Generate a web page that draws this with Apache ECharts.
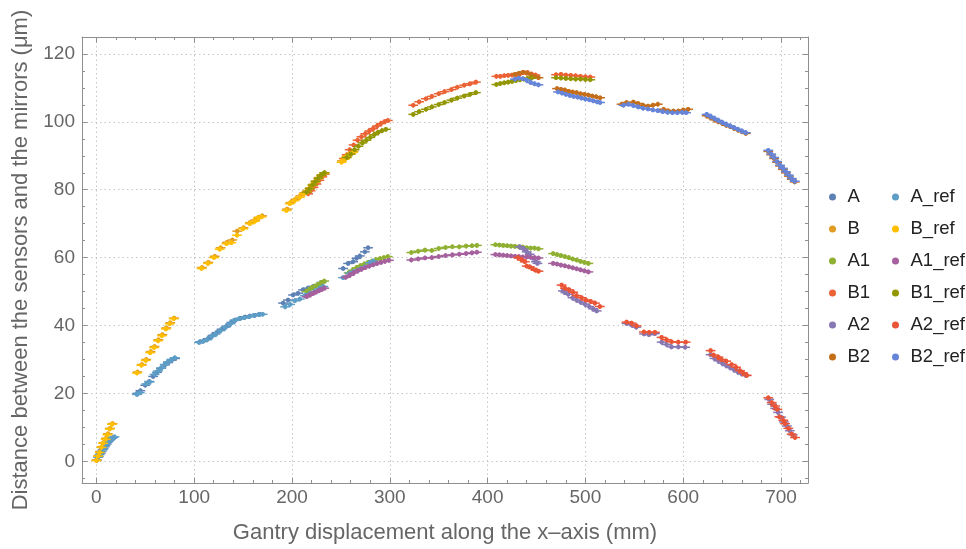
<!DOCTYPE html>
<html>
<head>
<meta charset="utf-8">
<script src="https://cdn.jsdelivr.net/npm/echarts@6/dist/echarts.min.js"></script>
<style>html,body{margin:0;padding:0;background:#fff}#c{width:966px;height:549px}</style>
</head>
<body>
<div id="c"></div>
<script>
// ---------------- data ----------------
const seriesNames = ['A','B','A1','B1','A2','B2','A_ref','B_ref','A1_ref','B1_ref','A2_ref','B2_ref'];
const seriesColors = ['#5E81B5','#E19C24','#8FB032','#EB6235','#8778B3','#C56E1A','#5D9EC7','#FFBF00','#A5609D','#929600','#E95536','#6685D9'];
const xTickValues = [0,100,200,300,400,500,600,700];
const yTickValues = [0,20,40,60,80,100,120];
const X_ERR = 5;     // mm
const Y_ERR = 0.7;   // µm

const A = [
 [0.5,0.3],[2.5,1.4],[4.5,2.4],[6.5,3.4],[8.5,4.3],[10.5,5.1],[12.5,5.9],[14.7,6.5],[17,7.0],
 [42,20.0],[45,20.8],[50,22.4],[54,23.5],[58,25.0],[62,26.2],[66,27.4],[70,28.4],[73.5,29.1],[77,29.8],[80.5,30.3],
 [106,35.2],[110,35.6],[114,36.1],[119,37.1],[123,37.9],[128,38.9],[133,39.8],[138,40.9],[142,41.6],[147,42.1],[152,42.5],[157,42.8],[162,43.0],[167,43.3],
 [190.9,46.6],[196,47.5],[201.1,49.0],[206.2,49.5],[211.3,50.5],[216.4,51.0],[221.6,51.5],[226.7,51.9],[230.2,52.7],
 [252.3,56.8],[257.4,58.3],[262.5,58.8],[266,59.8],[269.3,60.5],[274.5,61.7],[277.8,62.9]
];
const B = [
 [0.3,0.4],[2,1.7],[3.8,2.9],[5.5,4.3],[7.3,5.5],[9.8,6.8],[11.8,8.1],[14,9.7],[16.5,11.1],
 [42,26.3],[46.5,28.5],[51,30],[55.5,32.3],[59.5,33.8],[63.5,35.8],[67.5,37.3],[71.5,39.3],[75.5,40.8],[79.5,42.2],
 [108,57.1],[114.5,58.6],[121,60.4],[127,62.9],[133.5,64.5],[139,65.2],[144,67.8],[150.5,68.8],[157,70.3],[162.5,71.1],[166,71.9],[169.5,72.3],
 [195,74.3],[198.5,76.2],[203.5,77.2],[208.5,78.2],[212.5,79.1],[215.5,79.7],[218.5,80.6],[221.5,81.6],[224.5,82.6],[227.5,83.6],[230.5,84.4],[233.5,85],
 [251,88.5],[254.5,89.3],[257,90],[260,90.7],[263,91.3]
];
const A1 = [
 [215,50],[218,50.6],[221,51.2],[224,51.6],[227,52.1],[230,52.6],[233,53.1],
 [258,55.5],[262,56.3],[266,57.0],[270,57.6],[274,58.1],[278,58.6],[282,59.0],[286,59.4],[290,59.7],[294,60.0],[298,60.3],
 [322,61.5],[329,61.9],[336,62.2],[343,62.1],[350,62.7],[357,63.0],[364,63.2],[371,63.2],[378,63.4],[384,63.5],[389,63.6],
 [408,63.8],[412,63.7],[416,63.6],[420,63.5],[424,63.4],[428,63.3],[432,63.2],[436,63.1],[440,62.9],[444,62.8],[448,62.8],[452,62.6],
 [467,61.2],[471,60.9],[475,60.6],[479,60.3],[483,60.0],[487,59.6],[491,59.3],[495,58.9],[499,58.6],[503,58.3]
];
const B1 = [
 [216.5,78.8],[219,79.7],[222,80.7],[225,81.7],[228,82.8],[231,83.8],[233.5,84.6],
 [253,89.2],[256,90.3],[259,91.8],[263,93.2],[267,94.6],[271,95.6],[275,96.5],[279,97.3],[283,98.0],[287,98.8],[291,99.5],[295,100.1],[298,100.4],
 [324,104.9],[330,105.9],[337,106.8],[343,107.5],[350,108.3],[356,108.9],[363,109.5],[369,110.2],[376,110.8],[382,111.2],[388,111.7],
 [409,113.4],[413,113.4],[417,113.6],[421,113.7],[425,113.8],[429,113.9],[433,114.1],[437,114.6],[441,114.5],[445,114.1],[449,113.8],
 [470,113.9],[475,114.0],[480,113.8],[485,113.7],[490,113.6],[495,113.4],[500,113.3],[505,113.2]
];
const A2 = [
 [433,63.2],[437,62.5],[440,61.7],[443,61.0],[446.6,59.8],[449.4,58.8],[451,58.3],
 [477,50.2],[479.5,49.7],[482.4,49.2],[486.9,48.2],[491,47.5],[495.1,46.9],[499.5,46.3],[503.9,45.6],[508,44.9],[511.5,44.3],
 [542,40.6],[547,40.2],[552,39.5],[560,37.5],[565,37.3],[571,37.6],[578,35.1],[583,34.4],[588,33.7],[595,33.7],[602,33.6],
 [628,31.4],[632,30.3],[636,29.6],[640,28.9],[644,28.2],[648,27.6],[652,27.0],[656,26.3],[660,25.7],[664,25.3],
 [688,18.2],[691,16.8],[694,15.6],[697,14.4],[700,13.0],[703,11.6],[706,10.4],[709,9.0],[712,7.8]
];
const B2 = [
 [428,114.0],[432,114.3],[436,114.6],[440,114.4],[444,113.9],[448,113.4],[452,113.0],
 [471,109.8],[475,109.6],[479,109.4],[483,109.0],[487,108.8],[491,108.6],[495,108.3],[499,108.1],[503,107.9],[507,107.6],[511,107.4],[515,107.1],
 [537,105.2],[542,105.7],[549,105.8],[554,105.4],[559,104.9],[564,104.6],[569,104.9],[574,105.2],[580,103.7],[585,103.2],[590,103.2],[595,103.2],[600,103.5],[605,103.7],
 [624,101.8],[628,101.2],[632,100.6],[636,100.0],[640,99.6],[644,99.0],[648,98.6],[652,98.1],[656,97.6],[660,97.1],[664,96.6],
 [687,91.3],[690,90.3],[693,89.2],[696,88.1],[699,87.0],[702,86.0],[705,85.0],[708,84.0],[711,83.1],[714,82.3]
];
const A_ref = [
 [1.7,1.2],[3.5,2.0],[5.5,2.9],[7.5,3.8],[9.5,4.7],[11.5,5.5],[13.7,6.2],[16,6.8],[18.5,7.2],
 [41.5,19.7],[44.3,20.2],[51.1,22.8],[54.5,23.4],[59.6,25.6],[63,26.6],[66.5,27.5],[69.9,28.5],[73.2,29.3],[76.7,30],[80.1,30.5],
 [105,35],[109,35.3],[113,35.8],[118,36.8],[122,37.5],[127,38.5],[132,39.5],[137,40.5],[141,41.5],[146,42],[151,42.3],[156,42.6],[161,43],[166,43.2],[170,43.3],
 [193,45.5],[198,46.2],[203,47.3],[208,47.8],[213,48.8],[218,49.4],[223,50],[228,50.8],[232,51.5],
 [252.3,54.1],[259.1,55.4],[263,55.9],[267.6,56.3],[271,56.8],[274.5,57.3],[279.6,58.5],[283,59]
];
const B_ref = [
 [0,0.2],[1.7,1.5],[3.4,2.6],[5.1,4.1],[6.8,5.3],[9.5,6.5],[11.3,7.8],[13.6,9.5],[16,10.9],
 [41.5,26],[46,28.3],[50.4,29.7],[55,32],[59,33.5],[63,35.5],[67,37],[71,39],[75,40.5],[79,42],
 [107.4,56.8],[114,58.3],[120.3,60],[126,62.5],[133,64.1],[138,64.4],[143.8,66.6],[150,68.5],[156.8,70],[162,70.7],[165.3,71.7],[168.8,72],
 [194.3,73.9],[197.7,75.9],[202.8,76.8],[208,77.8],[212,78.8],[214.8,79.3],[218,80.3],[221,81.3],[224,82.3],[227,83.3],[230,84.2],[233,84.8],
 [250.6,88.1],[254,89],[255.7,89.8],[259.1,90.5],[262.5,91]
];
const A1_ref = [
 [215,48.5],[218,49],[221,49.4],[224,49.8],[227,50.2],[230,50.6],[233,51],
 [255,54.2],[259,54.8],[263,55.5],[267,56.1],[271,56.6],[275,57.1],[279,57.5],[283,57.9],[287,58.3],[291,58.6],[295,58.9],[299,59.2],
 [322,59.3],[329,59.6],[336,59.9],[343,60.0],[350,60.3],[357,60.6],[364,60.8],[371,61.0],[378,61.2],[384,61.4],[389,61.6],
 [408,60.9],[412,60.8],[416,60.7],[420,60.6],[424,60.5],[428,60.4],[432,60.3],[436,60.2],[440,60.2],[444,60.1],[448,60.0],[452,59.9],
 [467,58.3],[471,58.1],[475,57.8],[479,57.6],[483,57.3],[487,57.0],[491,56.7],[495,56.4],[499,56.1],[503,55.8]
];
const B1_ref = [
 [215,79.3],[218,80.3],[221,81.4],[224,82.4],[227,83.4],[230,84.3],[233,85],
 [256,89.5],[260,90.5],[264,91.8],[268,92.8],[272,93.8],[276,94.6],[280,95.4],[284,96.2],[288,96.9],[292,97.4],[296,97.8],
 [324,102.2],[330,103.0],[337,103.7],[343,104.4],[350,105.1],[356,105.7],[363,106.4],[369,107.0],[376,107.6],[382,108.1],[388,108.6],
 [409,111.0],[413,111.3],[417,111.5],[421,111.7],[425,111.9],[429,112.2],[433,112.4],[437,112.6],[441,112.8],[445,112.9],
 [470,113.0],[475,112.9],[480,112.8],[485,112.7],[490,112.6],[495,112.6],[500,112.5],[505,112.4]
];
const A2_ref = [
 [431,60.0],[435,59.3],[438,58.8],[440,57.5],[443,57.3],[446,56.8],[449,56.3],[452,56.0],
 [475.7,51.9],[479,51.0],[483.4,50.5],[487.5,49.8],[491,48.8],[496.1,48.2],[500.5,47.5],[505.3,47.1],[509.7,46.6],[514.8,45.6],
 [542.1,41.0],[547.2,40.7],[552.3,39.9],[559.8,38.1],[565.2,38.0],[571,38.0],[577.9,36.5],[583,35.8],[588.1,35.2],[594.9,35.1],[602.5,35.1],
 [628,32.6],[631,31.3],[636,30.7],[639,30.0],[644,29.5],[649.5,28.5],[654,27.7],[658,26.7],[661,26.1],[665,25.3],
 [687,18.7],[690.5,17.3],[693.9,16.3],[696.2,15.3],[698.3,13.1],[702.3,12.1],[704.1,11.1],[707.5,9.7],[710.9,8.0],[714.3,7.0]
];
const B2_ref = [
 [428,112.6],[432,112.9],[436,112.7],[440,112.3],[444,111.6],[448,111.2],[452,110.9],
 [472,108.8],[476,108.5],[480,108.1],[484,107.8],[488,107.5],[492,107.3],[496,107.0],[500,106.7],[504,106.5],[508,106.2],[512,105.9],[515,105.7],
 [539,104.9],[544,105.2],[549,104.8],[554,104.4],[559,104.0],[564,103.8],[569,103.5],[574,103.3],[579,103.0],[584,102.8],[589,102.7],[594,102.7],[599,102.8],[603,102.7],
 [624,102.2],[628,101.6],[632,101.0],[636,100.4],[640,99.8],[644,99.3],[648,98.8],[652,98.3],[656,97.8],[660,97.3],[664,96.8],
 [687,91.6],[690,90.5],[693,89.5],[696,88.3],[699,87.2],[702,86.3],[705,85.3],[708,84.3],[711,83.3],[714,82.5]
];
const seriesData = [A,B,A1,B1,A2,B2,A_ref,B_ref,A1_ref,B1_ref,A2_ref,B2_ref];

// ---------------- chart ----------------
const X_MIN = -14.7, X_MAX = 727.6, Y_MIN = -6.4, Y_MAX = 125;
const FONT = '"Liberation Sans", Arial, sans-serif';
const FRAME = '#8f8f8f';
const xMinor = [], yMinor = [];
for (let v = 20; v < X_MAX; v += 20) if (v % 100 !== 0) xMinor.push(v);
for (let v = -5; v < Y_MAX; v += 5) if (v % 20 !== 0) yMinor.push(v);

function axis(dim, pos, ticks, len, main, line) {
  const a = {
    type: 'value', position: pos,
    min: dim === 'x' ? X_MIN : Y_MIN, max: dim === 'x' ? X_MAX : Y_MAX,
    axisLine: { show: line, onZero: false, lineStyle: { color: FRAME, width: 1 } },
    axisTick: { show: true, inside: true, length: len, customValues: ticks, lineStyle: { color: FRAME, width: 1 } },
    axisLabel: { show: false },
    splitLine: { show: false }
  };
  if (main) {
    a.axisLabel = { show: true, customValues: ticks, color: '#666', fontSize: 19, fontFamily: FONT, margin: dim === 'x' ? 5 : 7 };
    a.splitLine = { show: true, lineStyle: { color: '#c4c4c4', type: [1.5, 3], width: 1 } };
  }
  return a;
}

const xAxes = [
  axis('x','bottom', xTickValues, 5.5, true, true),
  axis('x','bottom', xMinor, 3, false, false),
  axis('x','top', xTickValues, 5.5, false, true),
  axis('x','top', xMinor, 3, false, false)
];
xAxes[0].name = 'Gantry displacement along the x–axis (mm)';
xAxes[0].nameLocation = 'middle';
xAxes[0].nameGap = 39;
xAxes[0].nameTextStyle = { color: '#666', fontSize: 22, fontFamily: FONT };

const yAxes = [
  axis('y','left', yTickValues, 5.5, true, true),
  axis('y','left', yMinor, 3, false, false),
  axis('y','right', yTickValues, 5.5, false, true),
  axis('y','right', yMinor, 3, false, false)
];
yAxes[0].name = 'Distance between the sensors and the mirrors (μm)';
yAxes[0].nameLocation = 'middle';
yAxes[0].nameGap = 50;
yAxes[0].nameTextStyle = { color: '#666', fontSize: 22, fontFamily: FONT };

function renderItem(params, api) {
  const x = api.value(0), y = api.value(1);
  const c = api.coord([x, y]);
  const l = api.coord([x - X_ERR, y]), r = api.coord([x + X_ERR, y]);
  const t = api.coord([x, y + Y_ERR]), b = api.coord([x, y - Y_ERR]);
  const color = api.visual('color');
  return {
    type: 'group',
    children: [
      { type: 'line', shape: { x1: l[0], y1: l[1], x2: r[0], y2: r[1] }, style: { stroke: color, lineWidth: 1.5 } },
      { type: 'line', shape: { x1: t[0], y1: t[1], x2: b[0], y2: b[1] }, style: { stroke: color, lineWidth: 1.5 } },
      { type: 'circle', shape: { cx: c[0], cy: c[1], r: 2.3 }, style: { fill: color } }
    ]
  };
}

const series = seriesNames.map((n, i) => ({
  name: n, type: 'custom', renderItem,
  xAxisIndex: 0, yAxisIndex: 0,
  itemStyle: { color: seriesColors[i] },
  encode: { x: 0, y: 1 },
  data: seriesData[i]
}));

function legend(names, left) {
  return {
    data: names.map(n => ({ name: n, icon: 'circle' })),
    orient: 'vertical', left: left, top: 187, padding: 0,
    itemWidth: 20, itemHeight: 7, itemGap: 12,
    textStyle: { color: '#222', fontSize: 18.5, fontFamily: FONT, lineHeight: 20 }
  };
}

const chart = echarts.init(document.getElementById('c'), null, { renderer: 'canvas' });
chart.setOption({
  animation: false,
  color: seriesColors,
  grid: { left: 82, right: 158, top: 37, bottom: 63 },
  xAxis: xAxes,
  yAxis: yAxes,
  legend: [legend(seriesNames.slice(0, 6), 829), legend(seriesNames.slice(6), 892)],
  series: series
});
</script>
</body>
</html>
